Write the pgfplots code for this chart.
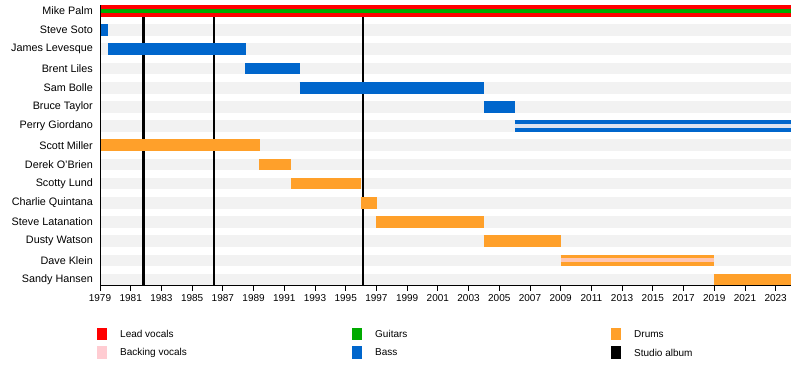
\documentclass[border=0pt]{standalone}
\usepackage{pgfplots}
\pgfplotsset{compat=1.18}
\usepackage{fontspec}
\setmainfont{Liberation Sans}
\definecolor{lead}{HTML}{FF0000}
\definecolor{backing}{HTML}{FFCCD2}
\definecolor{guitar}{HTML}{00AA00}
\definecolor{bass}{HTML}{0066CC}
\definecolor{drums}{HTML}{FFA02A}
\definecolor{stripe}{HTML}{F2F2F2}
\definecolor{perrymid}{HTML}{DCE3F0}
\definecolor{kleinmid}{HTML}{FFC6B2}
\begin{document}
\begin{tikzpicture}
\path[use as bounding box] (0,0) rectangle (800pt,-375pt);
\begin{axis}[
  at={(100pt,-5pt)}, anchor=north west,
  width=691pt, height=280.5pt, scale only axis,
  xmin=1979, xmax=2024, ymin=0.69, ymax=15.31,
  axis x line=bottom, axis y line=left,
  axis line style={-, line width=0.9pt, black},
  axis on top,
  xtick={1979,1981,...,2023}, minor x tick num=1,
  tick align=outside, major tick length=5pt, minor tick length=3pt,
  x tick style={black, line width=0.8pt},
  ytick={1,...,15},
  yticklabels={Sandy Hansen, Dave Klein, Dusty Watson, Steve Latanation, Charlie Quintana, Scotty Lund, Derek O'Brien, Scott Miller, Perry Giordano, Bruce Taylor, Sam Bolle, Brent Liles, James Levesque, Steve Soto, Mike Palm},
  y tick style={draw=none},
  yticklabel style={inner sep=0pt, xshift=-2pt, font=\fontsize{10.8}{12}\selectfont},
  xticklabel style={font=\fontsize{10}{12}\selectfont, /pgf/number format/1000 sep={}},
  /pgf/number format/assume math mode=true,
  unbounded coords=jump,
  clip=false,
]
% background stripes
\addplot[stripe, line width=11.7pt] table[row sep=\\] {
x y\\ 1979 14\\ 2024 14\\ nan nan\\ 1979 13\\ 2024 13\\ nan nan\\ 1979 12\\ 2024 12\\ nan nan\\
1979 11\\ 2024 11\\ nan nan\\ 1979 10\\ 2024 10\\ nan nan\\ 1979 9\\ 2024 9\\ nan nan\\
1979 8\\ 2024 8\\ nan nan\\ 1979 7\\ 2024 7\\ nan nan\\ 1979 6\\ 2024 6\\ nan nan\\
1979 5\\ 2024 5\\ nan nan\\ 1979 4\\ 2024 4\\ nan nan\\ 1979 3\\ 2024 3\\ nan nan\\
1979 2\\ 2024 2\\ nan nan\\ 1979 1\\ 2024 1\\
};
% studio albums
\addplot[black, line width=2.6pt] table[row sep=\\] {
x y\\ 1981.85 0.69\\ 1981.85 15.31\\ nan nan\\ 1986.43 0.69\\ 1986.43 15.31\\ nan nan\\ 1996.13 0.69\\ 1996.13 15.31\\
};
% lead vocals
\addplot[lead, line width=11.7pt] table[row sep=\\] {
x y\\ 1979 15\\ 2024 15\\
};
% guitars
\addplot[guitar, line width=4.5pt] table[row sep=\\] {
x y\\ 1979 15\\ 2024 15\\
};
% bass
\addplot[bass, line width=11.7pt] table[row sep=\\] {
x y\\ 1979 14\\ 1979.55 14\\ nan nan\\ 1979.52 13\\ 1988.5 13\\ nan nan\\ 1988.45 12\\ 1992.0 12\\ nan nan\\
1992.0 11\\ 2004.0 11\\ nan nan\\ 2004.0 10\\ 2006.05 10\\ nan nan\\ 2006.0 9\\ 2024 9\\
};
% backing vocals (Perry Giordano)
\addplot[perrymid, line width=4pt] table[row sep=\\] {
x y\\ 2006.0 9\\ 2024 9\\
};
% drums
\addplot[drums, line width=11.7pt] table[row sep=\\] {
x y\\ 1979 8\\ 1989.4 8\\ nan nan\\ 1989.38 7\\ 1991.45 7\\ nan nan\\ 1991.43 6\\ 1996.0 6\\ nan nan\\
1995.98 5\\ 1997.05 5\\ nan nan\\ 1997.0 4\\ 2004.0 4\\ nan nan\\ 2003.98 3\\ 2009.02 3\\ nan nan\\
2009.0 2\\ 2019.0 2\\ nan nan\\ 2018.98 1\\ 2024 1\\
};
% backing vocals (Dave Klein)
\addplot[kleinmid, line width=4pt] table[row sep=\\] {
x y\\ 2009.0 2\\ 2019.0 2\\
};
\end{axis}
% legend
\begin{scope}[every node/.style={anchor=west, inner sep=0pt, font=\fontsize{10}{12}\selectfont}]
\fill[lead] (97pt,-327.5pt) rectangle (107pt,-340pt);
\node at (120pt,-334pt) {Lead vocals};
\fill[backing] (97pt,-346pt) rectangle (107pt,-358.5pt);
\node at (120pt,-352.5pt) {Backing vocals};
\fill[guitar] (352pt,-327.5pt) rectangle (362pt,-340pt);
\node at (375pt,-334pt) {Guitars};
\fill[bass] (352pt,-346pt) rectangle (362pt,-358.5pt);
\node at (375pt,-352.5pt) {Bass};
\fill[drums] (611pt,-327.5pt) rectangle (621pt,-340pt);
\node at (634pt,-334pt) {Drums};
\fill[black] (611pt,-346pt) rectangle (621pt,-358.5pt);
\node at (634pt,-352.5pt) {Studio album};
\end{scope}
\end{tikzpicture}
\end{document}
